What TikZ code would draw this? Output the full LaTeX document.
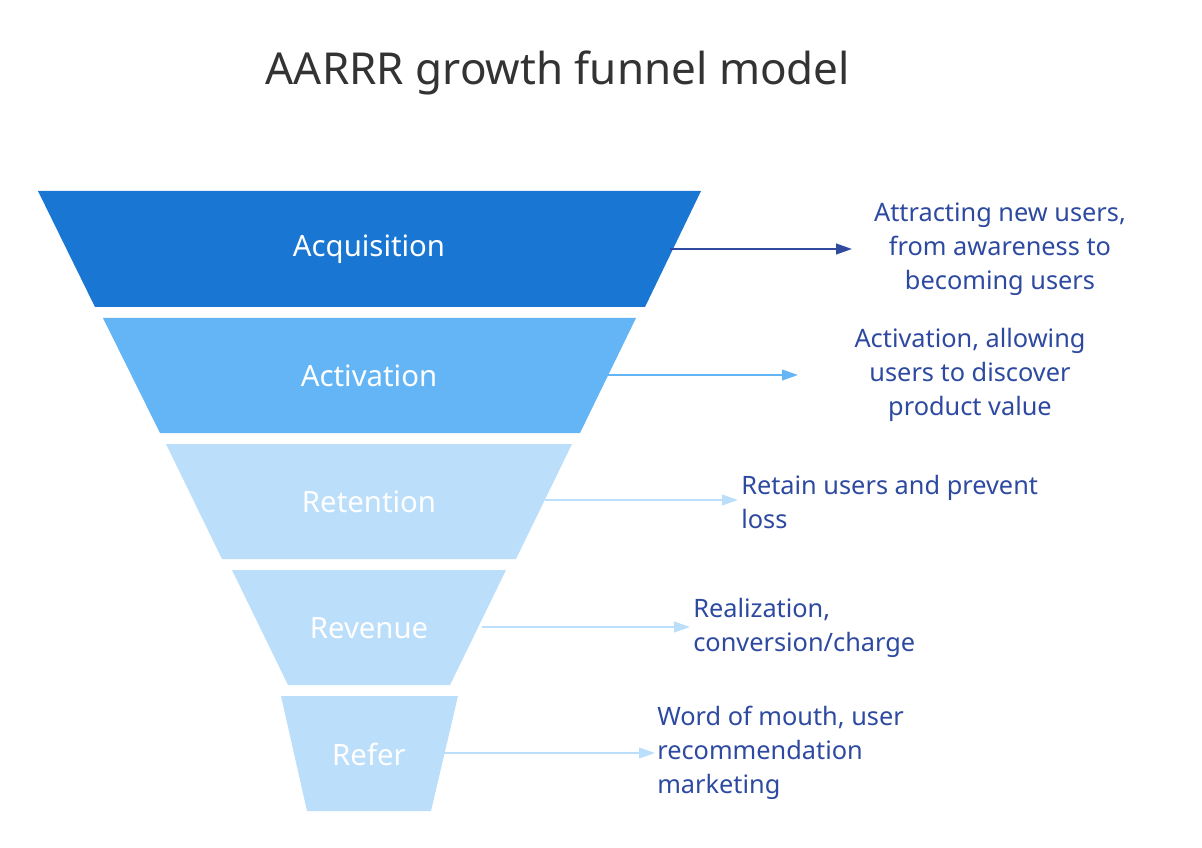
\documentclass[tikz,border=0pt]{standalone}
\usepackage{fontspec}
\setmainfont{Noto Sans}
\usetikzlibrary{arrows.meta}
\definecolor{c1}{HTML}{1976D2}
\definecolor{c2}{HTML}{64B5F6}
\definecolor{c3}{HTML}{BBDEFB}
\definecolor{tx}{HTML}{2E4AA0}
\definecolor{ar}{HTML}{2F4A9F}
\begin{document}
\begin{tikzpicture}[x=0.75pt,y=-0.75pt,
 lab/.style={text=white,font=\fontsize{22}{26}\selectfont\bfseries},
 desc/.style={text=tx,font=\fontsize{19}{25.5}\selectfont\bfseries,inner sep=0pt},
 arr/.style={line width=1.5pt,-{Triangle[length=12pt,width=8pt]}}]
\useasboundingbox (0,0) rectangle (1202,848);
\fill[white] (0,0) rectangle (1202,848);
\node[text=black!80,font=\fontsize{33}{40}\selectfont\bfseries] (title) at (558,73) {AARRR growth funnel model};
\fill[c1] (38,191)--(701,191)--(645,307)--(95,307)--cycle;
\fill[c2] (103,318)--(636,318)--(580,433)--(160,433)--cycle;
\fill[c3] (166,444)--(572,444)--(516,559)--(222,559)--cycle;
\fill[c3] (232,570)--(506,570)--(450,685)--(288,685)--cycle;
\fill[c3] (281,696)--(458,696)--(431,811)--(307,811)--cycle;
\node[lab] (a1) at (369,249) {Acquisition};
\node[lab] (a2) at (369,376) {Activation};
\node[lab] (a3) at (369,502) {Retention};
\node[lab] (a4) at (369,628) {Revenue};
\node[text=white,font=\fontsize{22}{26}\selectfont] (a5) at (369,754) {Refer};
\coordinate (s1) at (670,249); \coordinate (s2) at (608,375);
\coordinate (s3) at (545,500); \coordinate (s4) at (482,627); \coordinate (s5) at (430,753);
\node[desc,align=center] (d1) at (1000,249) {Attracting new users,\\from awareness to\\becoming users};
\node[desc,align=center] (d2) at (970,375) {Activation, allowing\\users to discover\\product value};
\node[desc,align=left,anchor=west] (d3) at (741,502) {Retain users and prevent\\loss};
\node[desc,align=left,anchor=west] (d4) at (693,628) {Realization,\\conversion/charge};
\node[desc,align=left,anchor=west] (d5) at (657,753) {Word of mouth, user\\recommendation\\marketing};
\draw[arr,ar] (s1) -- (852,249);
\draw[arr,c2] (s2) -- (798,375);
\draw[arr,c3] (s3) -- (738,500);
\draw[arr,c3] (s4) -- (690,627);
\draw[arr,c3] (s5) -- (655,753);
\end{tikzpicture}
\end{document}
